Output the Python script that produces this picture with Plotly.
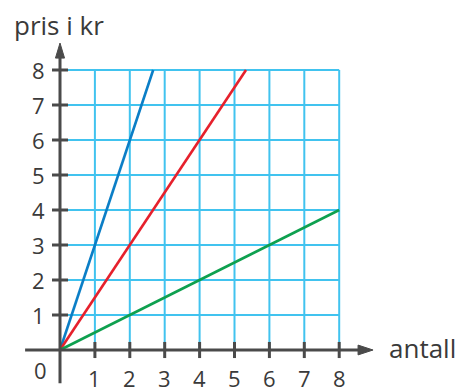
import plotly.graph_objects as go

# Tick values and labels
x_ticks = [1, 2, 3, 4, 5, 6, 7, 8]
y_ticks = [1, 2, 3, 4, 5, 6, 7, 8]

# Price lines (antall -> pris i kr)
blue_x = [0, 2.67]
blue_y = [0, 8]
red_x = [0, 5.33]
red_y = [0, 8]
green_x = [0, 8]
green_y = [0, 4]

AXIS = "#4a4a4a"
GRID = "#41c3ef"
FONT = "Open Sans"
TXT = "#3a3a3a"

fig = go.Figure()

shapes = []
# grid
for xv in x_ticks:
    shapes.append(dict(type="line", x0=xv, x1=xv, y0=0, y1=max(y_ticks),
                       line=dict(color=GRID, width=2), layer="below"))
for yv in y_ticks:
    shapes.append(dict(type="line", x0=0, x1=max(x_ticks), y0=yv, y1=yv,
                       line=dict(color=GRID, width=2), layer="below"))

for name, xs, ys, col in [("blå", blue_x, blue_y, "#0b7ec6"),
                          ("rød", red_x, red_y, "#e6202c"),
                          ("grønn", green_x, green_y, "#0ea04f")]:
    fig.add_trace(go.Scatter(x=xs, y=ys, mode="lines", name=name,
                             line=dict(color=col, width=2.6),
                             hoverinfo="skip", showlegend=False))

# axes
shapes.append(dict(type="line", x0=-1.0, x1=8.6, y0=0, y1=0,
                   line=dict(color=AXIS, width=3), layer="above"))
shapes.append(dict(type="line", x0=0, x1=0, y0=-0.95, y1=8.4,
                   line=dict(color=AXIS, width=3), layer="above"))
# arrowheads
shapes.append(dict(type="path", path="M 8.54 -0.14 L 8.97 0 L 8.54 0.14 Z",
                   fillcolor=AXIS, line=dict(color=AXIS, width=1), layer="above"))
shapes.append(dict(type="path", path="M -0.13 8.34 L 0 8.77 L 0.13 8.34 Z",
                   fillcolor=AXIS, line=dict(color=AXIS, width=1), layer="above"))
# tick marks
for xv in x_ticks:
    shapes.append(dict(type="line", x0=xv, x1=xv, y0=-0.23, y1=0.23,
                       line=dict(color=AXIS, width=3), layer="above"))
for yv in y_ticks:
    shapes.append(dict(type="line", x0=-0.23, x1=0.23, y0=yv, y1=yv,
                       line=dict(color=AXIS, width=3), layer="above"))

annotations = []
for xv in x_ticks:
    annotations.append(dict(x=xv, y=-0.8, text=str(xv), showarrow=False,
                            xanchor="center", yanchor="middle",
                            font=dict(family=FONT, size=22, color=TXT)))
for yv in y_ticks:
    annotations.append(dict(x=-0.38, y=yv, text=str(yv), showarrow=False,
                            xanchor="right", yanchor="middle",
                            font=dict(family=FONT, size=22, color=TXT)))
annotations.append(dict(x=-0.57, y=-0.57, text="0", showarrow=False,
                        xanchor="center", yanchor="middle",
                        font=dict(family=FONT, size=22, color=TXT)))
annotations.append(dict(x=9.37, y=0.05, text="antall", showarrow=False,
                        xanchor="left", yanchor="middle",
                        font=dict(family=FONT, size=26, color=TXT)))
annotations.append(dict(x=-1.38, y=9.3, text="pris i kr", showarrow=False,
                        xanchor="left", yanchor="middle",
                        font=dict(family=FONT, size=26, color=TXT)))

fig.update_layout(
    width=464, height=389,
    margin=dict(l=0, r=0, t=0, b=0),
    paper_bgcolor="white", plot_bgcolor="white",
    xaxis=dict(range=[-60 / 34.9, (464 - 60) / 34.9], visible=False, fixedrange=True),
    yaxis=dict(range=[(350 - 389) / 35, 350 / 35], visible=False, fixedrange=True),
    shapes=shapes, annotations=annotations,
)

fig.write_html("out.html")
